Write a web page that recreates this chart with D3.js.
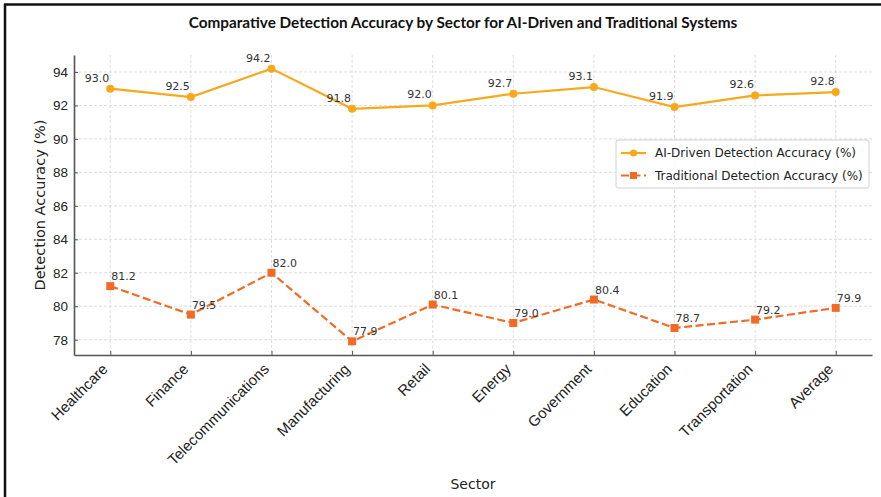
<!DOCTYPE html>
<html>
<head>
<meta charset="utf-8">
<script src="https://cdn.jsdelivr.net/npm/d3@7"></script>
<style>
  body { margin: 0; background: #fff; }
  svg { display: block; font-family: "DejaVu Sans", sans-serif; }
</style>
</head>
<body>
<div id="chart"></div>
<script>
var sectors = ["Healthcare", "Finance", "Telecommunications", "Manufacturing", "Retail",
    "Energy", "Government", "Education", "Transportation", "Average"];
var aiValues = [93.0, 92.5, 94.2, 91.8, 92.0, 92.7, 93.1, 91.9, 92.6, 92.8];
var tradValues = [81.2, 79.5, 82.0, 77.9, 80.1, 79.0, 80.4, 78.7, 79.2, 79.9];
var yTicks = [78, 80, 82, 84, 86, 88, 90, 92, 94];
var seriesNames = ["AI-Driven Detection Accuracy (%)", "Traditional Detection Accuracy (%)"];

var width = 881, height = 497;
var aiColor = "#f7a81b", tradColor = "#f26b24";

var svg = d3.select("#chart").append("svg")
    .attr("width", width)
    .attr("height", height);

// frame of the screenshot (left + top only)
svg.append("line").attr("x1", 5).attr("y1", 4).attr("x2", 5).attr("y2", height)
    .attr("stroke", "#111").attr("stroke-width", 2.5);
svg.append("line").attr("x1", 4).attr("y1", 4.5).attr("x2", width).attr("y2", 4.5)
    .attr("stroke", "#111").attr("stroke-width", 2.5);

var plot = { left: 74, right: 872, top: 55, bottom: 355 };

var x = d3.scaleLinear()
    .domain([-0.45, sectors.length - 1 + 0.45])
    .range([plot.left, plot.right]);

var y = d3.scaleLinear()
    .domain([77.085, 95.015])
    .range([plot.bottom, plot.top]);

// grid
var grid = svg.append("g");
grid.selectAll(".gx").data(sectors).enter().append("line")
    .attr("x1", function (d, i) { return x(i); })
    .attr("x2", function (d, i) { return x(i); })
    .attr("y1", plot.top).attr("y2", plot.bottom)
    .attr("stroke", "#d4d4d4").attr("stroke-width", 0.8)
    .attr("stroke-dasharray", "3,2");
grid.selectAll(".gy").data(yTicks).enter().append("line")
    .attr("x1", plot.left).attr("x2", plot.right)
    .attr("y1", function (d) { return y(d); })
    .attr("y2", function (d) { return y(d); })
    .attr("stroke", "#d4d4d4").attr("stroke-width", 0.8)
    .attr("stroke-dasharray", "3,2");

// axes
var xAxis = d3.axisBottom(x)
    .tickValues(d3.range(sectors.length))
    .tickFormat(function (d) { return sectors[d]; })
    .tickSizeInner(-4).tickSizeOuter(0);
var gx = svg.append("g")
    .attr("transform", "translate(0," + plot.bottom + ")")
    .call(xAxis);
gx.select(".domain").attr("stroke", "#555").attr("stroke-width", 1.6);
gx.selectAll(".tick line").attr("stroke", "#555");
gx.selectAll(".tick text")
    .attr("fill", "#222")
    .style("font-size", "15px")
    .style("text-anchor", "end")
    .attr("dy", null)
    .attr("y", 0).attr("x", 0)
    .attr("transform", "translate(-2,15) rotate(-45)");

var yAxis = d3.axisLeft(y)
    .tickValues(yTicks)
    .tickSizeInner(-4).tickSizeOuter(0)
    .tickPadding(6);
var gy = svg.append("g")
    .attr("transform", "translate(" + plot.left + ",0)")
    .call(yAxis);
gy.select(".domain").attr("stroke", "#555").attr("stroke-width", 1.6);
gy.selectAll(".tick line").attr("stroke", "#555");
gy.selectAll(".tick text").attr("fill", "#222").style("font-size", "13.5px");

// lines
var line = d3.line()
    .x(function (d, i) { return x(i); })
    .y(function (d) { return y(d); });

svg.append("path").datum(aiValues)
    .attr("d", line)
    .attr("fill", "none")
    .attr("stroke", aiColor)
    .attr("stroke-width", 2.2);

svg.append("path").datum(tradValues)
    .attr("d", line)
    .attr("fill", "none")
    .attr("stroke", tradColor)
    .attr("stroke-width", 2.2)
    .attr("stroke-dasharray", "8,3.5");

svg.selectAll(".ai-pt").data(aiValues).enter().append("circle")
    .attr("cx", function (d, i) { return x(i); })
    .attr("cy", function (d) { return y(d); })
    .attr("r", 4)
    .attr("fill", aiColor);

svg.selectAll(".tr-pt").data(tradValues).enter().append("rect")
    .attr("x", function (d, i) { return x(i) - 4; })
    .attr("y", function (d) { return y(d) - 4; })
    .attr("width", 8).attr("height", 8)
    .attr("fill", tradColor);

// value labels
svg.selectAll(".ai-lbl").data(aiValues).enter().append("text")
    .attr("x", function (d, i) { return x(i) - 1; })
    .attr("y", function (d) { return y(d) - 7; })
    .attr("text-anchor", "end")
    .attr("fill", "#333")
    .style("font-size", "11px")
    .text(function (d) { return d.toFixed(1); });

svg.selectAll(".tr-lbl").data(tradValues).enter().append("text")
    .attr("x", function (d, i) { return x(i) + 1; })
    .attr("y", function (d) { return y(d) - 6; })
    .attr("text-anchor", "start")
    .attr("fill", "#333")
    .style("font-size", "11px")
    .text(function (d) { return d.toFixed(1); });

// titles
svg.append("text")
    .attr("x", 463).attr("y", 28)
    .attr("text-anchor", "middle")
    .style("font-family", "Lato, sans-serif")
    .style("font-weight", "bold")
    .style("font-size", "15.3px")
    .attr("fill", "#111")
    .text("Comparative Detection Accuracy by Sector for AI-Driven and Traditional Systems");

svg.append("text")
    .attr("x", 473).attr("y", 489)
    .attr("text-anchor", "middle")
    .attr("fill", "#222")
    .style("font-size", "14px")
    .text("Sector");

svg.append("text")
    .attr("transform", "translate(45," + ((plot.top + plot.bottom) / 2) + ") rotate(-90)")
    .attr("text-anchor", "middle")
    .attr("fill", "#222")
    .style("font-size", "14.5px")
    .text("Detection Accuracy (%)");

// legend
var legend = svg.append("g").attr("transform", "translate(616,140)");
legend.append("rect")
    .attr("width", 253).attr("height", 48)
    .attr("rx", 2)
    .attr("fill", "#fff").attr("fill-opacity", 0.85)
    .attr("stroke", "#d0d0d0");

var items = legend.selectAll("g.item")
    .data(seriesNames)
    .enter().append("g")
    .attr("transform", function (d, i) { return "translate(0," + (13 + i * 22.5) + ")"; });

items.append("line")
    .attr("x1", 5).attr("x2", 30)
    .attr("stroke", function (d, i) { return i === 0 ? aiColor : tradColor; })
    .attr("stroke-width", 2.2)
    .attr("stroke-dasharray", function (d, i) { return i === 0 ? null : "8,3.5"; });

items.filter(function (d, i) { return i === 0; }).append("circle")
    .attr("cx", 17.5).attr("r", 3.5).attr("fill", aiColor);
items.filter(function (d, i) { return i === 1; }).append("rect")
    .attr("x", 14).attr("y", -3.5).attr("width", 7).attr("height", 7).attr("fill", tradColor);

items.append("text")
    .attr("x", 39).attr("dy", "0.35em")
    .attr("fill", "#222")
    .style("font-size", "12px")
    .text(function (d) { return d; });
</script>
</body>
</html>
